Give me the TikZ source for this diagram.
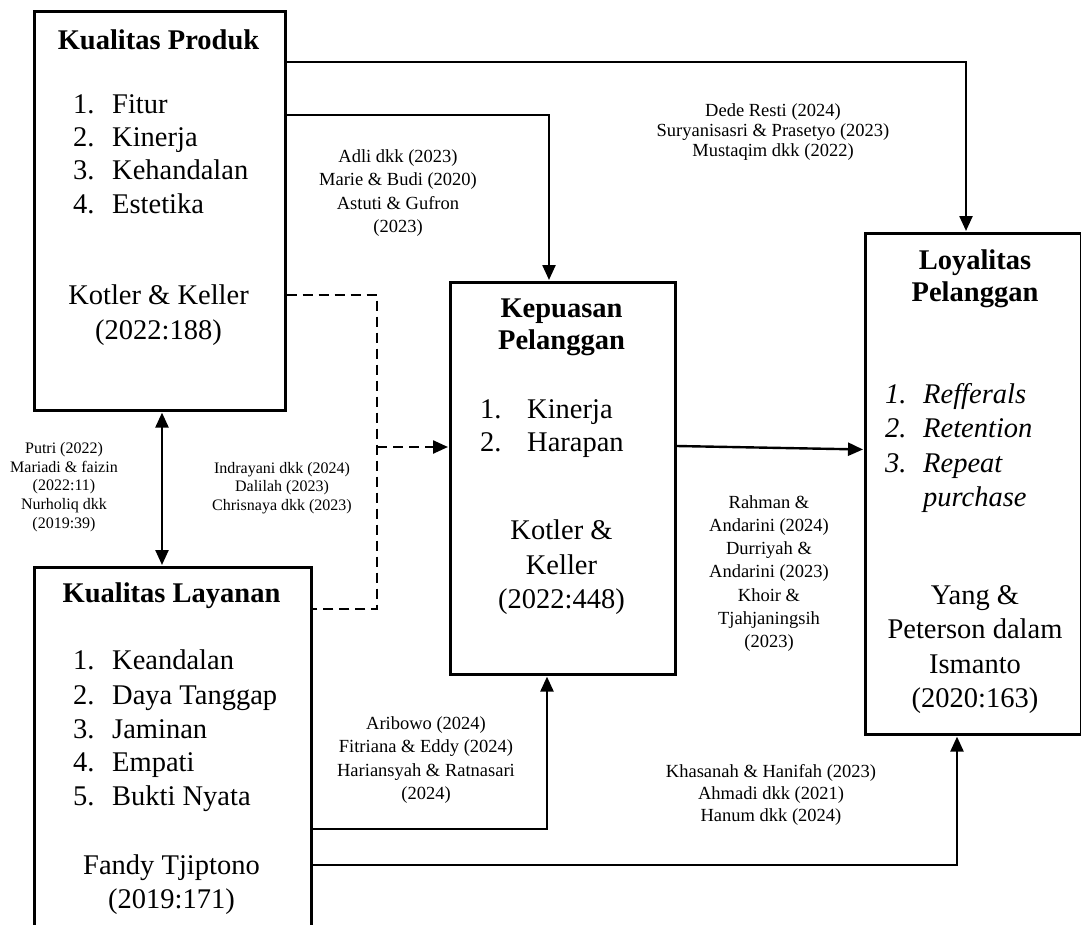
\documentclass[tikz,border=0pt]{standalone}
\usepackage{fontspec}
\setmainfont{Liberation Serif}
\usetikzlibrary{arrows.meta}
\begin{document}
\begin{tikzpicture}[x=1pt,y=-1pt,
  box/.style={draw,line width=2.6pt,anchor=north west,inner sep=0pt},
  big/.style={font=\fontsize{28.5}{34.5}\selectfont,inner sep=0pt,align=center},
  bigb/.style={font=\bfseries\fontsize{28.5}{31.5}\selectfont,inner sep=0pt,align=center},
  item/.style={font=\fontsize{28.5}{34}\selectfont,inner sep=0pt,anchor=west,text height=20pt,text depth=7pt},
  cite/.style={font=\fontsize{18.5}{23.2}\selectfont,inner sep=0pt,align=center},
  citesm/.style={font=\fontsize{16}{18.8}\selectfont,inner sep=0pt,align=center},
  arr/.style={line width=2.4pt,-{Triangle[length=15pt,width=13pt]},shorten >=1pt},
  darr/.style={line width=2.4pt,{Triangle[length=15pt,width=13pt]}-{Triangle[length=15pt,width=13pt]},shorten >=1pt,shorten <=1pt},
  dsh/.style={line width=2.4pt,dash pattern=on 10pt off 6pt}]
\useasboundingbox (0,0) rectangle (1081,924);
\clip (0,0) rectangle (1081,924);
\fill[white] (0,0) rectangle (1081,924);

% boxes
\node[box,minimum width=251pt,minimum height=399pt] (kp) at (33,10) {};
\node[box,minimum width=277pt,minimum height=400pt] (kl) at (33,566) {};
\node[box,minimum width=225pt,minimum height=392pt] (ks) at (449,281) {};
\node[box,minimum width=216pt,minimum height=501pt] (ly) at (864,232) {};

% Kualitas Produk
\node[bigb] (kpt) at (158.5,40) {Kualitas Produk};
\foreach \n/\t/\y in {1/Fitur/107,2/Kinerja/140,3/Kehandalan/173,4/Estetika/207}
  \node[item] (kp\n) at (73,\y) {\makebox[39pt][l]{\n.}\t};
\node[big] (kpc) at (158.5,315) {Kotler \& Keller\\(2022:188)};

% Kualitas Layanan
\node[bigb] (klt) at (171.5,596) {Kualitas Layanan};
\foreach \n/\t/\y in {1/Keandalan/663,2/Daya Tanggap/698,3/Jaminan/732,4/Empati/765,5/Bukti Nyata/799}
  \node[item] (kl\n) at (73,\y) {\makebox[39pt][l]{\n.}\t};
\node[big] (klc) at (171.5,884.5) {Fandy Tjiptono\\(2019:171)};

% Kepuasan Pelanggan
\node[bigb] (kst) at (561.5,327.5) {Kepuasan\\Pelanggan};
\foreach \n/\t/\y in {1/Kinerja/412,2/Harapan/445}
  \node[item] (ks\n) at (480,\y) {\makebox[47pt][l]{\n.}\t};
\node[big] (ksc) at (561.5,567.5) {Kotler \&\\Keller\\(2022:448)};

% Loyalitas Pelanggan
\node[bigb] (lyt) at (975,279) {Loyalitas\\Pelanggan};
\foreach \n/\t/\y in {1/Refferals/397,2/Retention/431,3/Repeat/466}
  \node[item,font=\itshape\fontsize{28.5}{34}\selectfont] (ly\n) at (885,\y) {\makebox[38pt][l]{\n.}\t};
\node[item,font=\itshape\fontsize{28.5}{34}\selectfont] (ly4) at (923,500) {purchase};
\node[big] (lyc) at (975,649.5) {Yang \&\\Peterson dalam\\Ismanto\\(2020:163)};

% citation labels
\node[cite,font=\fontsize{18.5}{20}\selectfont] (c1) at (773,132) {Dede Resti (2024)\\Suryanisasri \& Prasetyo (2023)\\Mustaqim dkk (2022)};
\node[cite] (c2) at (398,193) {Adli dkk (2023)\\Marie \& Budi (2020)\\Astuti \& Gufron\\(2023)};
\node[cite] (c3) at (769,573.5) {Rahman \&\\Andarini (2024)\\Durriyah \&\\Andarini (2023)\\Khoir \&\\Tjahjaningsih\\(2023)};
\node[citesm] (c4) at (64,487) {Putri (2022)\\Mariadi \& faizin\\(2022:11)\\Nurholiq dkk\\(2019:39)};
\node[citesm] (c5) at (282,488) {Indrayani dkk (2024)\\Dalilah (2023)\\Chrisnaya dkk (2023)};
\node[cite] (c6) at (426,760) {Aribowo (2024)\\Fitriana \& Eddy (2024)\\Hariansyah \& Ratnasari\\(2024)};
\node[cite,font=\fontsize{18.5}{22}\selectfont] (c7) at (771,795) {Khasanah \& Hanifah (2023)\\Ahmadi dkk (2021)\\Hanum dkk (2024)};

% bend coordinates
\coordinate (b1) at (966,62);
\coordinate (b2) at (549,115);
\coordinate (b4) at (547,829);
\coordinate (b5) at (957,865);
\coordinate (d1) at (162,0);
\coordinate (e1) at (377,295);
\coordinate (e2) at (377,609);
\coordinate (e3) at (377,447);
\coordinate (s3) at (0,446);
\coordinate (t3) at (0,449.5);

% connectors
\draw[arr] (kp.east |- b1) -- (b1) -- (b1 |- ly.north);
\draw[arr] (kp.east |- b2) -- (b2) -- (b2 |- ks.north);
\draw[arr] (ks.east |- s3) -- (ly.west |- t3);
\draw[arr] (kl.east |- b4) -- (b4) -- (b4 |- ks.south);
\draw[arr] (kl.east |- b5) -- (b5) -- (b5 |- ly.south);
\draw[darr] (d1 |- kp.south) -- (d1 |- kl.north);
\draw[dsh] (kp.east |- e1) -- (e1) -- (e2) -- (kl.east |- e2);
\draw[dsh,-{Triangle[length=15pt,width=13pt]},shorten >=1pt] (e3) -- (ks.west |- e3);
\end{tikzpicture}
\end{document}
